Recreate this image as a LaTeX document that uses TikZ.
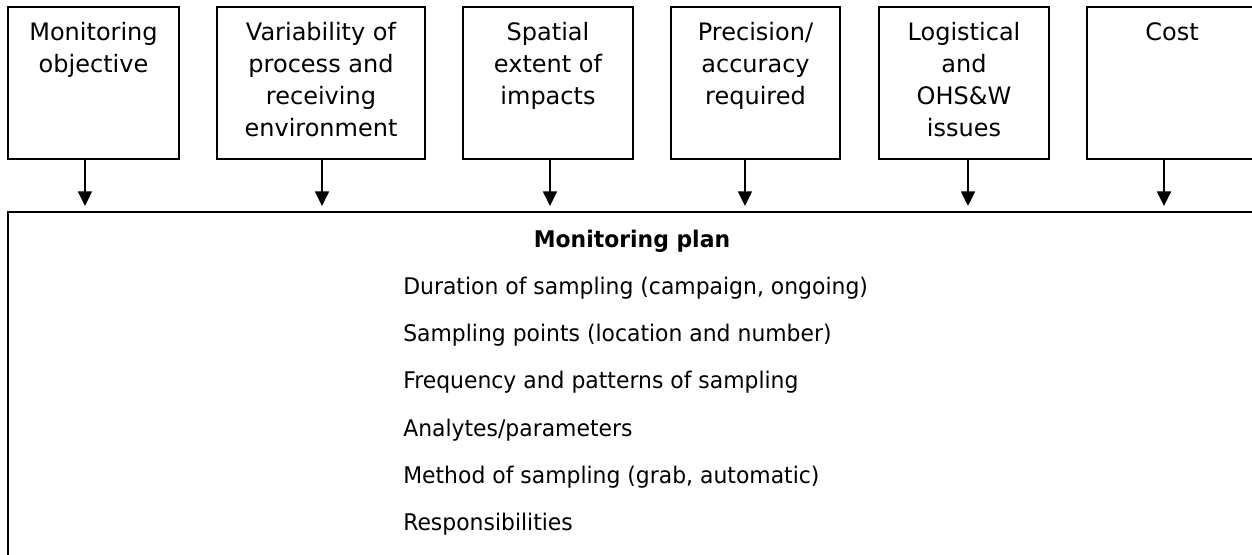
\documentclass[tikz,border=0pt]{standalone}
\usepackage{fontspec}
\setmainfont[FakeStretch=0.955]{DejaVu Sans}
\newfontfamily\boxfont{DejaVu Sans}
\usetikzlibrary{arrows.meta}
\begin{document}
\begin{tikzpicture}[x=0.75pt,y=-0.75pt,
  factor/.style={draw,line width=2pt,inner sep=0pt,minimum height=114pt},
  ftext/.style={anchor=north,align=center,inner sep=0pt,font=\boxfont\fontsize{18}{24}\selectfont},
  ptitle/.style={anchor=base,inner sep=0pt,font=\fontsize{17.2}{20}\selectfont\bfseries},
  pline/.style={anchor=base west,inner sep=0pt,font=\fontsize{17.2}{20}\selectfont},
  arr/.style={line width=1.2pt,-{Triangle[width=10.5pt,length=11pt]},shorten >=3.5pt}]
\clip (0,0) rectangle (1252,555);
% factor boxes
\node[factor,minimum width=128.25pt] (b1) at (93.5,83) {};
\node[factor,minimum width=156pt]    (b2) at (321,83) {};
\node[factor,minimum width=127.5pt]  (b3) at (548,83) {};
\node[factor,minimum width=126.75pt] (b4) at (755.5,83) {};
\node[factor,minimum width=127.5pt]  (b5) at (964,83) {};
\node[factor,minimum width=127.5pt]  (b6) at (1172,83) {};
% factor texts
\node[ftext] (t1) at ([yshift=-12.6pt]b1.north) {Monitoring\\objective};
\node[ftext] (t2) at ([yshift=-12.6pt]b2.north) {Variability of\\process and\\receiving\\environment};
\node[ftext] (t3) at ([yshift=-12.6pt]b3.north) {Spatial\\extent of\\impacts};
\node[ftext] (t4) at ([yshift=-12.6pt]b4.north) {Precision/\\accuracy\\required};
\node[ftext] (t5) at ([yshift=-12.6pt]b5.north) {Logistical\\and\\OHS\&W\\issues};
\node[ftext] (t6) at ([yshift=-12.6pt]b6.north) {Cost};
% plan box
\node[draw,line width=2pt,inner sep=0pt,minimum width=940.5pt,minimum height=268.5pt] (plan) at (635,391) {};
\node[ptitle] (pt) at (632,248) {Monitoring plan};
\node[pline] (p1) at (403,295) {Duration of sampling (campaign, ongoing)};
\node[pline] (p2) at (403,342) {Sampling points (location and number)};
\node[pline] (p3) at (403,389) {Frequency and patterns of sampling};
\node[pline] (p4) at (403,436) {Analytes/parameters};
\node[pline] (p5) at (403,483) {Method of sampling (grab, automatic)};
\node[pline] (p6) at (403,530) {Responsibilities};
% arrows
\draw[arr] ([xshift=-6.4pt]b1.south) -- ([xshift=-6.4pt]b1.south |- plan.north);
\draw[arr] ([xshift=0.75pt]b2.south) -- ([xshift=0.75pt]b2.south |- plan.north);
\draw[arr] ([xshift=1.5pt]b3.south) -- ([xshift=1.5pt]b3.south |- plan.north);
\draw[arr] ([xshift=-7.9pt]b4.south) -- ([xshift=-7.9pt]b4.south |- plan.north);
\draw[arr] ([xshift=3pt]b5.south) -- ([xshift=3pt]b5.south |- plan.north);
\draw[arr] ([xshift=-6pt]b6.south) -- ([xshift=-6pt]b6.south |- plan.north);
\end{tikzpicture}
\end{document}
